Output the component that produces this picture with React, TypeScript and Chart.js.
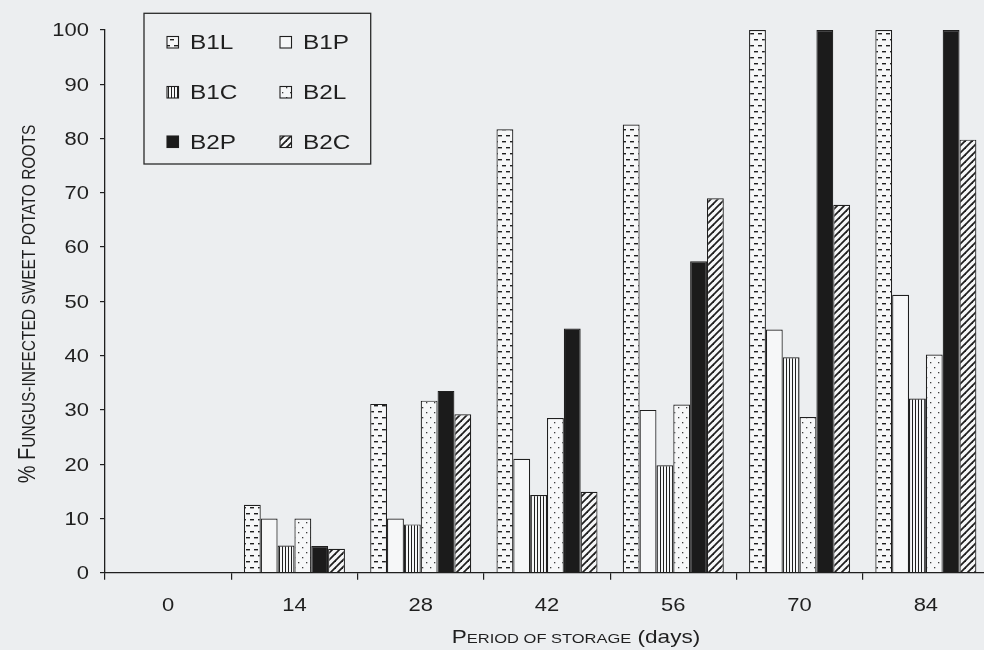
import React, { useEffect, useRef } from 'react';
import { Chart, registerables } from 'chart.js';

Chart.register(...registerables);

// ---------- data ----------
const categories = ['0', '14', '28', '42', '56', '70', '84'];
const seriesNames = ['B1L', 'B1P', 'B1C', 'B2L', 'B2P', 'B2C'];
const b1l = [0, 12.5, 31.1, 81.7, 82.6, 100, 100];
const b1p = [0, 10.0, 10.0, 21.0, 30.0, 44.8, 51.2];
const b1c = [0, 5.0, 8.9, 14.3, 19.8, 39.7, 32.1];
const b2l = [0, 10.0, 31.7, 28.5, 31.0, 28.7, 40.2];
const b2p = [0, 4.9, 33.5, 45.0, 57.4, 100, 100];
const b2c = [0, 4.4, 29.2, 14.9, 69.0, 67.8, 79.8];
const yMin = 0;
const yMax = 100;
const yStep = 10;

const xTitleRuns: [string, number][] = [
  ['P', 18.5],
  ['ERIOD OF STORAGE', 13.5],
  [' (days)', 18.5],
];
const yTitleRuns: [string, number][] = [
  ['% F', 20],
  ['UNGUS-INFECTED SWEET POTATO ROOTS', 15.5],
];

// ---------- style ----------
const FONT = '"Liberation Sans", Arial, sans-serif';
const STRETCH = 1.22;
const INK = '#1f1f1f';
const BG = '#eceef0';
const PAPER = '#f6f7f8';

function tile(w: number, h: number, draw: (g: CanvasRenderingContext2D) => void) {
  const c = document.createElement('canvas');
  c.width = w;
  c.height = h;
  const g = c.getContext('2d')!;
  g.fillStyle = PAPER;
  g.fillRect(0, 0, w, h);
  g.fillStyle = INK;
  g.strokeStyle = INK;
  draw(g);
  return c;
}

function makePatterns(ctx: CanvasRenderingContext2D) {
  const dashes = tile(8, 12, (g) => {
    g.fillRect(2, 3, 4, 1.4);
    g.fillRect(6, 9, 2, 1.4);
    g.fillRect(0, 9, 2, 1.4);
  });
  const vlines = tile(3, 4, (g) => {
    g.fillRect(0, 0, 1, 4);
  });
  const dots = tile(8, 10, (g) => {
    g.fillStyle = '#3a3a3a';
    g.fillRect(2, 2, 1.3, 1.3);
    g.fillRect(6, 7, 1.3, 1.3);
  });
  const hatch = tile(7, 7, (g) => {
    g.lineWidth = 1.8;
    for (let k = -1; k <= 1; k++) {
      g.beginPath();
      g.moveTo(k * 7 - 1, 8);
      g.lineTo(k * 7 + 8, -1);
      g.stroke();
    }
  });
  return [
    ctx.createPattern(dashes, 'repeat')!,
    PAPER,
    ctx.createPattern(vlines, 'repeat')!,
    ctx.createPattern(dots, 'repeat')!,
    '#1b1b1b',
    ctx.createPattern(hatch, 'repeat')!,
  ] as (string | CanvasPattern)[];
}

function stretchText(
  ctx: CanvasRenderingContext2D,
  text: string,
  x: number,
  y: number,
  align: CanvasTextAlign,
  size: number
) {
  ctx.save();
  ctx.translate(x, y);
  ctx.scale(STRETCH, 1);
  ctx.font = `${size}px ${FONT}`;
  ctx.textAlign = align;
  ctx.textBaseline = 'alphabetic';
  ctx.fillStyle = INK;
  ctx.fillText(text, 0, 0);
  ctx.restore();
}

function drawRuns(
  ctx: CanvasRenderingContext2D,
  runs: [string, number][],
  cx: number,
  cy: number,
  rotated: boolean
) {
  ctx.save();
  ctx.translate(cx, cy);
  if (rotated) {
    ctx.rotate(-Math.PI / 2);
    ctx.scale(1, STRETCH);
  } else {
    ctx.scale(STRETCH, 1);
  }
  ctx.textAlign = 'left';
  ctx.textBaseline = 'alphabetic';
  ctx.fillStyle = INK;
  let total = 0;
  const widths = runs.map(([t, s]) => {
    ctx.font = `${s}px ${FONT}`;
    const w = ctx.measureText(t).width;
    total += w;
    return w;
  });
  let x = -total / 2;
  runs.forEach(([t, s], i) => {
    ctx.font = `${s}px ${FONT}`;
    ctx.fillText(t, x, 0);
    x += widths[i];
  });
  ctx.restore();
}

export default function App() {
  const ref = useRef<HTMLCanvasElement | null>(null);

  useEffect(() => {
    const canvas = ref.current!;
    const ctx = canvas.getContext('2d')!;
    const fills = makePatterns(ctx);
    const series = [b1l, b1p, b1c, b2l, b2p, b2c];

    const customPlugin = {
      id: 'customDraw',
      beforeDraw(chart: any) {
        const c = chart.ctx as CanvasRenderingContext2D;
        c.save();
        c.fillStyle = BG;
        c.fillRect(0, 0, chart.width, chart.height);
        c.restore();
      },
      afterDraw(chart: any) {
        const c = chart.ctx as CanvasRenderingContext2D;
        const ys = chart.scales.y;
        const xs = chart.scales.x;
        ys.ticks.forEach((t: any) => {
          const py = ys.getPixelForValue(t.value);
          stretchText(c, String(t.value), ys.right - 16, py + 6.4, 'right', 18);
        });
        categories.forEach((cat, i) => {
          const px = xs.getPixelForValue(i);
          stretchText(c, cat, px, xs.top + 38, 'center', 18);
        });
        drawRuns(c, xTitleRuns, 576, 643, false);
        drawRuns(c, yTitleRuns, 35, 304, true);
        const lx = 144, ly = 13.3, lw = 226.7, lh = 150.7;
        c.save();
        c.fillStyle = BG;
        c.fillRect(lx, ly, lw, lh);
        c.strokeStyle = '#2a2a2a';
        c.lineWidth = 1.3;
        c.strokeRect(lx, ly, lw, lh);
        c.restore();
        const colSwatch = [167, 280];
        const rowBase = [49, 99, 148.5];
        seriesNames.forEach((name, i) => {
          const col = i % 2;
          const row = Math.floor(i / 2);
          const sx = colSwatch[col];
          const by = rowBase[row];
          c.save();
          c.fillStyle = fills[i] as any;
          c.fillRect(sx, by - 12.5, 11.5, 11.5);
          c.strokeStyle = INK;
          c.lineWidth = 1.1;
          c.strokeRect(sx, by - 12.5, 11.5, 11.5);
          c.restore();
          stretchText(c, name, sx + 23, by, 'left', 20);
        });
      },
    };

    const chart = new Chart(canvas, {
      type: 'bar',
      data: {
        labels: categories,
        datasets: seriesNames.map((name, i) => ({
          label: name,
          data: series[i],
          backgroundColor: fills[i] as any,
          borderColor: INK,
          borderWidth: 1.2,
          categoryPercentage: 0.8,
          barPercentage: 1.0,
        })),
      },
      options: {
        responsive: false,
        animation: false,
        events: [],
        layout: { padding: { left: 0, right: 11, top: 30, bottom: 0 } },
        plugins: {
          legend: { display: false },
          tooltip: { enabled: false },
          title: { display: false },
        },
        scales: {
          x: {
            offset: true,
            grid: {
              offset: true,
              drawOnChartArea: false,
              drawTicks: true,
              tickLength: 7,
              color: INK,
              lineWidth: 1.2,
            },
            border: { display: true, color: INK, width: 1.3 },
            ticks: { display: false },
            afterFit: (s: any) => {
              s.height = 77.3;
            },
          },
          y: {
            min: yMin,
            max: yMax,
            ticks: { stepSize: yStep, display: false },
            grid: {
              drawOnChartArea: false,
              drawTicks: true,
              tickLength: 5,
              color: INK,
              lineWidth: 1.2,
            },
            border: { display: true, color: INK, width: 1.3 },
            afterFit: (s: any) => {
              s.width = 105;
            },
          },
        },
      },
      plugins: [customPlugin],
    });

    return () => {
      chart.destroy();
    };
  }, []);

  return (
    <div
      style={{
        position: 'fixed',
        left: 0,
        top: 0,
        width: 984,
        height: 650,
        overflow: 'hidden',
        background: BG,
      }}
    >
      <canvas
        ref={ref}
        width={1000}
        height={650}
        style={{ display: 'block', width: 1000, height: 650 }}
      />
    </div>
  );
}
